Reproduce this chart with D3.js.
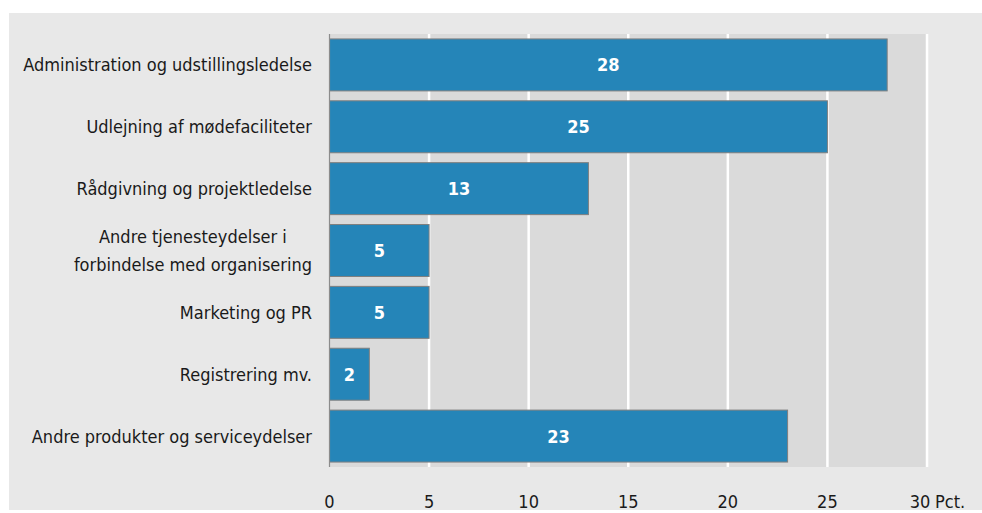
<!DOCTYPE html>
<html>
<head>
<meta charset="utf-8">
<script src="https://cdn.jsdelivr.net/npm/d3@7"></script>
<style>
  html, body { margin: 0; padding: 0; background: #fff; }
  svg text { font-family: "Liberation Sans Narrow", "DejaVu Sans Condensed", "Roboto Condensed", sans-serif; }
</style>
</head>
<body>
<script>
  // kategorier og værdier (pct.)
  const categories = [
    ['Administration og udstillingsledelse'],
    ['Udlejning af mødefaciliteter'],
    ['Rådgivning og projektledelse'],
    ['Andre tjenesteydelser i', 'forbindelse med organisering'],
    ['Marketing og PR'],
    ['Registrering mv.'],
    ['Andre produkter og serviceydelser']
  ];
  const values = [28, 25, 13, 5, 5, 2, 23];
  const ticks = [0, 5, 10, 15, 20, 25, 30];
  const unit = 'Pct.';

  const W = 982, H = 513;
  const plot = { left: 329.5, right: 927, top: 34, bottom: 467 };

  const svg = d3.select('body').append('svg')
    .attr('width', W)
    .attr('height', H);

  svg.append('rect')
    .attr('x', 9).attr('y', 13)
    .attr('width', W - 9).attr('height', 497)
    .attr('fill', '#e8e8e8');

  const x = d3.scaleLinear().domain([0, 30]).range([plot.left, plot.right]);
  const y = d3.scaleBand()
    .domain(d3.range(categories.length))
    .range([plot.top, plot.bottom])
    .paddingInner(0.16)
    .paddingOuter(0.08);

  svg.append('rect')
    .attr('x', x(0)).attr('y', plot.top)
    .attr('width', x(30) - x(0)).attr('height', plot.bottom - plot.top)
    .attr('fill', '#dadada');

  // hvide gitterlinjer
  svg.append('g')
    .selectAll('line')
    .data(ticks.filter(d => d > 0))
    .join('line')
    .attr('x1', d => x(d)).attr('x2', d => x(d))
    .attr('y1', plot.top).attr('y2', plot.bottom)
    .attr('stroke', '#fff')
    .attr('stroke-width', 2.5);

  svg.append('g')
    .selectAll('rect')
    .data(values)
    .join('rect')
    .attr('x', x(0))
    .attr('y', (d, i) => y(i))
    .attr('width', d => x(d) - x(0))
    .attr('height', y.bandwidth())
    .attr('fill', '#2585b8')
    .attr('stroke', '#7f7f7f')
    .attr('stroke-width', 1);

  svg.append('line')
    .attr('x1', x(0)).attr('x2', x(0))
    .attr('y1', plot.top).attr('y2', plot.bottom)
    .attr('stroke', '#8c8c8c')
    .attr('stroke-width', 1.2);

  svg.append('g')
    .selectAll('text')
    .data(values)
    .join('text')
    .attr('x', d => x(d / 2))
    .attr('y', (d, i) => y(i) + y.bandwidth() / 2)
    .attr('dy', '0.36em')
    .attr('text-anchor', 'middle')
    .attr('fill', '#fff')
    .attr('font-weight', 'bold')
    .attr('font-size', 18)
    .text(d => d);

  // kategorietiketter, flerlinjede centreres i forhold til hinanden
  const labelRight = 312;
  const lineH = 28.5;
  const labels = svg.append('g')
    .selectAll('text')
    .data(categories)
    .join('text')
    .attr('fill', '#1a1a1a')
    .attr('font-size', 18)
    .attr('y', (d, i) => y(i) + y.bandwidth() / 2 - (d.length - 1) * lineH / 2);

  labels.each(function(lines) {
    const t = d3.select(this);
    t.selectAll('tspan')
      .data(lines)
      .join('tspan')
      .attr('dy', (l, j) => j === 0 ? '0.36em' : lineH)
      .text(l => l);
    let maxW = 0;
    t.selectAll('tspan').each(function() {
      maxW = Math.max(maxW, this.getComputedTextLength());
    });
    const cx = labelRight - maxW / 2;
    t.attr('text-anchor', 'middle');
    t.selectAll('tspan').attr('x', cx);
  });

  const last = ticks[ticks.length - 1];
  svg.append('g')
    .selectAll('text')
    .data(ticks)
    .join('text')
    .attr('x', d => d === last ? x(d) - 7 : x(d))
    .attr('y', 502)
    .attr('dy', '0.36em')
    .attr('text-anchor', 'middle')
    .attr('fill', '#1a1a1a')
    .attr('font-size', 18)
    .text(d => d);

  svg.append('text')
    .attr('x', x(last) + 8)
    .attr('y', 502)
    .attr('dy', '0.36em')
    .attr('fill', '#1a1a1a')
    .attr('font-size', 18)
    .text(unit);
</script>
</body>
</html>
